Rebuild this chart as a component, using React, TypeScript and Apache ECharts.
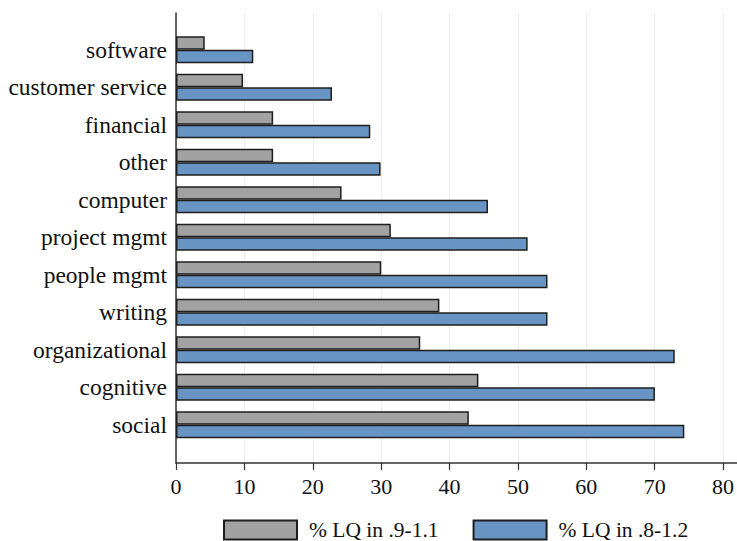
import React, { useEffect, useRef } from "react";
import * as echarts from "echarts";

const categories = [
  "software",
  "customer service",
  "financial",
  "other",
  "computer",
  "project mgmt",
  "people mgmt",
  "writing",
  "organizational",
  "cognitive",
  "social",
];
const lqNarrow = [4.2, 9.8, 14.2, 14.2, 24.2, 31.4, 30.0, 38.5, 35.7, 44.2, 42.8];
const lqWide = [11.3, 22.8, 28.4, 29.9, 45.6, 51.4, 54.3, 54.3, 72.9, 70.0, 74.3];
const seriesNames = ["% LQ in .9-1.1", "% LQ in .8-1.2"];
const xTicks = [0, 10, 20, 30, 40, 50, 60, 70, 80];

const FONT = "'Liberation Serif', 'Times New Roman', serif";

export default function App() {
  const ref = useRef<HTMLDivElement>(null);
  useEffect(() => {
    if (!ref.current) return;
    const chart = echarts.init(ref.current, null, { renderer: "svg" });
    const edge = { borderColor: "#1e1e1e", borderWidth: 1.5 };
    chart.setOption({
      animation: false,
      backgroundColor: "#ffffff",
      grid: [
        { left: 176, right: 0, top: 31, height: 412.5, containLabel: false },
        { left: 176, right: 0, top: 13, bottom: 78, containLabel: false },
      ],
      xAxis: [
        { type: "value", gridIndex: 0, min: 0, max: 82, show: false },
        {
          type: "value",
          gridIndex: 1,
          min: 0,
          max: 82,
          interval: 10,
          axisLine: { show: true, onZero: false, lineStyle: { color: "#333", width: 1.5 } },
          axisTick: { show: true, length: 7, customValues: xTicks, lineStyle: { color: "#333", width: 1.2 } },
          axisLabel: {
            customValues: xTicks,
            margin: 12,
            fontFamily: FONT,
            fontSize: 22,
            color: "#111",
          },
          splitLine: { show: true, lineStyle: { color: "#ececec", width: 1 } },
        },
      ],
      yAxis: [
        {
          type: "category",
          gridIndex: 0,
          inverse: true,
          data: categories,
          axisLine: { show: false },
          axisTick: { show: false },
          axisLabel: { margin: 9, fontFamily: FONT, fontSize: 23.5, color: "#111" },
          splitLine: { show: false },
        },
        {
          type: "value",
          gridIndex: 1,
          min: 0,
          max: 1,
          axisLine: { show: true, onZero: false, lineStyle: { color: "#333", width: 1.5 } },
          axisTick: { show: false },
          axisLabel: { show: false },
          splitLine: { show: false },
        },
      ],
      legend: {
        left: 223,
        top: 519,
        padding: 0,
        itemWidth: 73,
        itemHeight: 19,
        itemGap: 34,
        icon: "rect",
        textStyle: { fontFamily: FONT, fontSize: 21.5, color: "#111", padding: [0, 0, 0, 7], lineHeight: 20 },
        data: seriesNames,
      },
      series: [
        {
          name: seriesNames[0],
          type: "bar",
          xAxisIndex: 0,
          yAxisIndex: 0,
          data: lqNarrow,
          barWidth: 13.5,
          barGap: "0%",
          itemStyle: { color: "#a2a2a2", ...edge },
        },
        {
          name: seriesNames[1],
          type: "bar",
          xAxisIndex: 0,
          yAxisIndex: 0,
          data: lqWide,
          barWidth: 13.5,
          barGap: "0%",
          itemStyle: { color: "#6895c3", ...edge },
        },
      ],
    });
    return () => chart.dispose();
  }, []);
  return (
    <div
      ref={ref}
      style={{ position: "fixed", left: 0, top: 0, width: 737, height: 541, background: "#fff" }}
    />
  );
}
